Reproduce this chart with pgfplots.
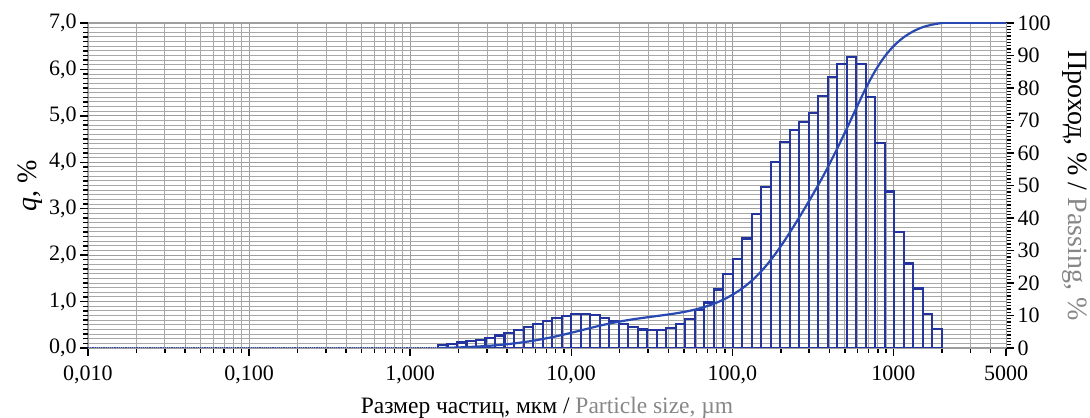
\documentclass[border=0pt]{standalone}
\usepackage{fontspec}
\setmainfont{Liberation Serif}
\usepackage{pgfplots}
\pgfplotsset{compat=1.18}
\definecolor{barblue}{RGB}{36,52,158}
\definecolor{curveblue}{RGB}{40,72,178}
\definecolor{txtgray}{RGB}{135,135,135}
\definecolor{gridgray}{RGB}{158,158,158}
\newcommand{\tf}{\fontsize{22bp}{26bp}\selectfont}
\newcommand{\lf}{\fontsize{28bp}{32bp}\selectfont}
\newcommand{\xf}{\fontsize{23.5bp}{27bp}\selectfont}
\begin{document}
\begin{tikzpicture}
\begin{axis}[name=ax, scale only axis, width=918bp, height=325bp,
  xmode=log, xmin=0.01, xmax=5000, ymin=0, ymax=7,
  xtick={0.01,0.1,1,10,100,1000,5000},
  xticklabels={{0,010},{0,100},{1,000},{10,00},{100,0},{1000},{5000}},
  minor xtick={0.02,0.03,0.04,0.05,0.06,0.07,0.08,0.09,
    0.2,0.3,0.4,0.5,0.6,0.7,0.8,0.9,
    2,3,4,5,6,7,8,9,
    20,30,40,50,60,70,80,90,
    200,300,400,500,600,700,800,900,
    2000,3000,4000},
  ytick={0,1,2,3,4,5,6,7},
  yticklabels={{0,0},{1,0},{2,0},{3,0},{4,0},{5,0},{6,0},{7,0}},
  minor y tick num=9,
  xtick pos=left, ytick pos=left,
  tick align=outside,
  major tick length=8bp, minor tick length=5bp,
  tick style={black, line width=1.4bp},
  grid=both,
  major grid style={gridgray, line width=1bp},
  minor grid style={gridgray!90, line width=0.85bp},
  axis line style={gridgray, line width=0.9bp},
  tick label style={font=\tf},
  xticklabel style={yshift=-6bp},
  xlabel={Размер частиц, мкм / \textcolor{txtgray}{Particle size, µm}},
  xlabel style={font=\xf, at={(axis description cs:0.5,0)}, anchor=center, yshift=-60bp},
  ylabel={\textit{q}, \%},
  ylabel style={font=\lf, at={(axis description cs:-0.0632,0.5)}, anchor=center},
]
\addplot[curveblue, densely dotted, line width=1.2bp] coordinates {(0.01,0) (1.49,0)};
\addplot[ybar interval, draw=barblue, fill=none, line width=2.2bp] coordinates {
(1.490,0.06) (1.707,0.09) (1.955,0.12) (2.240,0.15) (2.566,0.18) (2.939,0.22)
(3.367,0.27) (3.857,0.32) (4.419,0.38) (5.062,0.45) (5.799,0.52) (6.643,0.58)
(7.610,0.64) (8.717,0.69) (9.986,0.73) (11.44,0.74) (13.10,0.71) (15.01,0.65)
(17.20,0.57) (19.70,0.52) (22.57,0.45) (25.85,0.40) (29.62,0.39) (33.93,0.39)
(38.86,0.43) (44.52,0.52) (51.00,0.62) (58.42,0.82) (66.93,0.98) (76.67,1.26)
(87.82,1.59) (100.6,1.92) (115.3,2.36) (132.0,2.89) (151.2,3.47) (173.3,4.01)
(198.5,4.44) (227.4,4.70) (260.5,4.87) (298.4,5.07) (341.8,5.43) (391.5,5.84)
(448.5,6.12) (513.8,6.27) (588.6,6.11) (674.3,5.41) (772.4,4.41) (884.8,3.37)
(1013.6,2.50) (1161.1,1.82) (1330.1,1.28) (1523.7,0.73) (1745.5,0.41) (2000,0)
};
\end{axis}
\begin{axis}[scale only axis, width=918bp, height=325bp,
  at={(ax.south west)}, anchor=south west,
  xmode=log, xmin=0.01, xmax=5000, ymin=0, ymax=100,
  axis x line=none, axis y line*=right,
  ytick={0,10,...,100}, minor y tick num=9,
  /pgf/number format/assume math mode=true,
  tick align=outside,
  major tick length=8bp, minor tick length=5bp,
  tick style={black, line width=1.4bp},
  axis line style={gridgray, line width=0.9bp},
  tick label style={font=\tf},
  ylabel={Проход, \% / \textcolor{txtgray}{Passing, \%}},
  ylabel style={font=\lf, at={(axis description cs:1.0752,0.5)}, anchor=center, rotate=180},
]
\addplot[curveblue, line width=2.2bp, smooth] coordinates {
(1.490,0) (1.707,0.06) (1.955,0.15) (2.240,0.27) (2.566,0.42) (2.939,0.60)
(3.367,0.82) (3.857,1.09) (4.419,1.41) (5.062,1.79) (5.799,2.24) (6.643,2.76)
(7.610,3.34) (8.717,3.98) (9.986,4.67) (11.44,5.40) (13.10,6.14) (15.01,6.85)
(17.20,7.50) (19.70,8.07) (22.57,8.59) (25.85,9.04) (29.62,9.44) (33.93,9.83)
(38.86,10.22) (44.52,10.65) (51.00,11.17) (58.42,11.79) (66.93,12.61) (76.67,13.59)
(87.82,14.85) (100.6,16.44) (115.3,18.36) (132.0,20.72) (151.2,23.61) (173.3,27.08)
(198.5,31.09) (227.4,35.53) (260.5,40.23) (298.4,45.10) (341.8,50.17) (391.5,55.60)
(448.5,61.44) (513.8,67.56) (588.6,73.83) (674.3,79.94) (772.4,85.35) (884.8,89.76)
(1013.6,93.13) (1161.1,95.63) (1330.1,97.45) (1523.7,98.73) (1745.5,99.50) (2000,100)
};
\addplot[curveblue, line width=2.2bp] coordinates {(2000,100) (5000,100)};
\end{axis}
\pgfresetboundingbox
\path[use as bounding box] ([xshift=-88bp,yshift=-70bp]ax.south west) rectangle ([xshift=84bp,yshift=23bp]ax.north east);
\end{tikzpicture}
\end{document}
